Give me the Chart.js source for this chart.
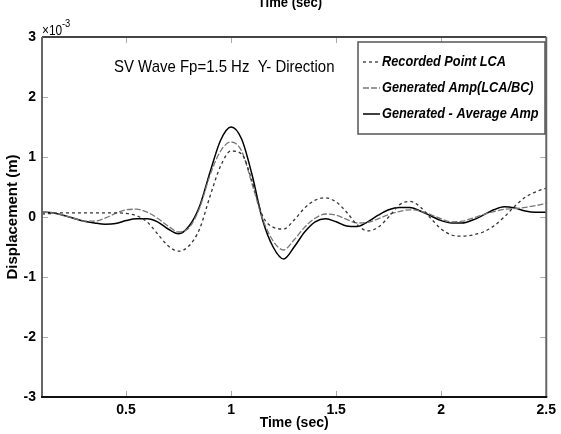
<!DOCTYPE html>
<html>
<head>
<meta charset="utf-8">
<script src="https://cdn.jsdelivr.net/npm/chart.js@4.4.1/dist/chart.umd.min.js"></script>
<style>
html,body{margin:0;padding:0;background:#fff}
</style>
</head>
<body>
<canvas id="lineChart" width="561" height="434"></canvas>
<script>
// displacement values are in units of 1e-3 m (axis shows x10^-3)
const times = [0.10,0.15,0.20,0.25,0.30,0.35,0.40,0.45,0.50,0.55,0.60,0.65,0.70,0.75,0.80,0.85,0.90,0.95,1.00,
  1.05,1.10,1.15,1.20,1.25,1.30,1.35,1.40,1.45,1.50,1.55,1.60,1.65,1.70,1.75,1.80,1.85,1.90,1.95,2.00,
  2.05,2.10,2.15,2.20,2.25,2.30,2.35,2.40,2.45,2.50]

const recordedLCA = [0.05,0.06,0.07,0.07,0.07,0.07,0.07,0.07,0.06,0.02,-0.08,-0.28,-0.48,-0.57,-0.48,-0.20,0.35,0.85,1.10,
  1.05,0.60,0.02,-0.17,-0.20,-0.05,0.15,0.28,0.32,0.25,0.08,-0.13,-0.23,-0.17,0.00,0.20,0.26,0.17,-0.02,-0.20,
  -0.30,-0.32,-0.30,-0.25,-0.15,0.00,0.18,0.33,0.42,0.48]

const generatedAmp = [0.08,0.07,0.03,-0.02,-0.07,-0.07,-0.02,0.06,0.12,0.13,0.08,-0.02,-0.15,-0.25,-0.18,0.15,0.70,1.10,1.25,
  1.10,0.55,-0.03,-0.40,-0.55,-0.38,-0.17,-0.02,0.05,0.03,-0.04,-0.10,-0.09,-0.03,0.04,0.09,0.12,0.10,0.04,-0.03,
  -0.08,-0.07,-0.02,0.04,0.09,0.13,0.14,0.16,0.19,0.23]

const generatedAvg = [0.08,0.07,0.03,-0.02,-0.07,-0.10,-0.12,-0.11,-0.06,-0.03,-0.03,-0.08,-0.20,-0.28,-0.15,0.18,0.75,1.28,1.50,
  1.30,0.70,-0.05,-0.50,-0.70,-0.50,-0.25,-0.08,-0.03,-0.08,-0.15,-0.16,-0.08,0.03,0.12,0.16,0.16,0.10,0.02,-0.06,
  -0.10,-0.10,-0.05,0.03,0.12,0.17,0.15,0.10,0.08,0.08]

const xTicks = [0.5,1,1.5,2,2.5]
const yTicks = [-3,-2,-1,0,1,2,3]

const sans = "'Liberation Sans', Arial, sans-serif"

function pts(ys){
  return times.map((t,i)=>({x:t, y:ys[i]}))
}

// narrow text: squeeze horizontally (no condensed font available)
function narrowText(ctx, text, x, y, sx){
  ctx.save()
  ctx.translate(x, y)
  ctx.scale(sx, 1)
  ctx.fillText(text, 0, 0)
  ctx.restore()
}

const frame = {
  id:'frame',
  afterDatasetsDraw(chart){
    const ctx = chart.ctx
    const a = chart.chartArea
    const x = chart.scales.x, y = chart.scales.y
    ctx.save()
    // inward tick marks on all four sides
    ctx.strokeStyle = '#aaa'
    ctx.lineWidth = 1
    ctx.beginPath()
    xTicks.forEach(v=>{
      const px = Math.round(x.getPixelForValue(v)) + 0.5
      ctx.moveTo(px,a.bottom); ctx.lineTo(px,a.bottom-6)
      ctx.moveTo(px,a.top); ctx.lineTo(px,a.top+6)
    })
    yTicks.forEach(v=>{
      const py = Math.round(y.getPixelForValue(v)) + 0.5
      ctx.moveTo(a.left,py); ctx.lineTo(a.left+6,py)
      ctx.moveTo(a.right,py); ctx.lineTo(a.right-6,py)
    })
    ctx.stroke()
    // box
    ctx.lineWidth = 2
    ctx.strokeStyle = '#444'
    ctx.beginPath(); ctx.moveTo(a.left,a.top); ctx.lineTo(a.right,a.top); ctx.stroke()
    ctx.strokeStyle = '#666'
    ctx.beginPath(); ctx.moveTo(a.left,a.top); ctx.lineTo(a.left,a.bottom); ctx.stroke()
    ctx.beginPath(); ctx.moveTo(a.right,a.top); ctx.lineTo(a.right,a.bottom); ctx.stroke()
    ctx.strokeStyle = '#111'
    ctx.beginPath(); ctx.moveTo(a.left-1,a.bottom); ctx.lineTo(a.right+1,a.bottom); ctx.stroke()

    // exponent label
    ctx.fillStyle = '#000'
    ctx.textBaseline = 'alphabetic'
    ctx.textAlign = 'left'
    ctx.font = "14px " + sans
    narrowText(ctx, '\u00d710', a.left, a.top - 2, 0.85)
    ctx.font = "11px " + sans
    narrowText(ctx, '-3', a.left + 20, a.top - 10, 0.85)

    // cut-off title above the axes
    ctx.font = "bold 15px " + sans
    ctx.textAlign = 'center'
    narrowText(ctx, 'Time (sec)', 290, 7, 0.87)

    // text inside the axes
    ctx.font = "17px " + sans
    ctx.textAlign = 'left'
    narrowText(ctx, 'SV Wave Fp=1.5 Hz  Y- Direction', 114, 72, 0.88)

    // legend box
    const lx = 358, ly = 42, lw = 187, lh = 92
    ctx.fillStyle = '#fff'
    ctx.fillRect(lx,ly,lw,lh)
    ctx.strokeStyle = '#555'
    ctx.lineWidth = 1.5
    ctx.strokeRect(lx,ly,lw,lh)
    ctx.font = "italic bold 15px " + sans
    ctx.fillStyle = '#000'
    chart.data.datasets.forEach((ds,i)=>{
      const rowY = 62 + i*26
      ctx.strokeStyle = ds.borderColor
      ctx.lineWidth = ds.borderWidth
      ctx.setLineDash(ds.borderDash || [])
      ctx.beginPath(); ctx.moveTo(363,rowY); ctx.lineTo(380,rowY); ctx.stroke()
      ctx.setLineDash([])
      ctx.textBaseline = 'middle'
      narrowText(ctx, ds.label, 382, rowY, 0.85)
    })
    ctx.restore()
  }
}

new Chart(document.getElementById('lineChart'), {
  type:'line',
  data:{
    datasets:[
      {label:'Recorded Point LCA', data:pts(recordedLCA), borderColor:'#333', borderWidth:1.3, borderDash:[3,3]},
      {label:'Generated Amp(LCA/BC)', data:pts(generatedAmp), borderColor:'#777', borderWidth:1.3, borderDash:[6,2]},
      {label:'Generated - Average Amp', data:pts(generatedAvg), borderColor:'#000', borderWidth:1.5}
    ]
  },
  options:{
    responsive:false,
    animation:false,
    devicePixelRatio:1,
    layout:{padding:{top:37, right:13, left:0, bottom:0}},
    elements:{point:{radius:0}, line:{cubicInterpolationMode:'monotone', fill:false}},
    plugins:{legend:{display:false}, tooltip:{enabled:false}},
    scales:{
      x:{
        type:'linear', min:0.1, max:2.5,
        afterBuildTicks(axis){ axis.ticks = xTicks.map(v=>({value:v})) },
        afterFit(axis){ axis.height = 37 },
        grid:{display:false, drawTicks:false},
        border:{display:false},
        ticks:{padding:5, color:'#000', font:{family:sans, size:14, weight:'bold'}, maxRotation:0,
          callback:v=>String(v)},
        title:{display:true, text:'Time (sec)', color:'#000', padding:{top:0,bottom:2},
          font:{family:sans, size:14, weight:'bold'}}
      },
      y:{
        type:'linear', min:-3, max:3,
        afterBuildTicks(axis){ axis.ticks = yTicks.map(v=>({value:v})) },
        afterFit(axis){ axis.width = 42 },
        grid:{display:false, drawTicks:false},
        border:{display:false},
        ticks:{padding:6, color:'#000', font:{family:sans, size:14, weight:'bold'},
          callback:v=>String(v)},
        title:{display:true, text:'Displacement (m)', color:'#000', padding:{top:4,bottom:0},
          font:{family:sans, size:15, weight:'bold'}}
      }
    }
  },
  plugins:[frame]
})
</script>
</body>
</html>
